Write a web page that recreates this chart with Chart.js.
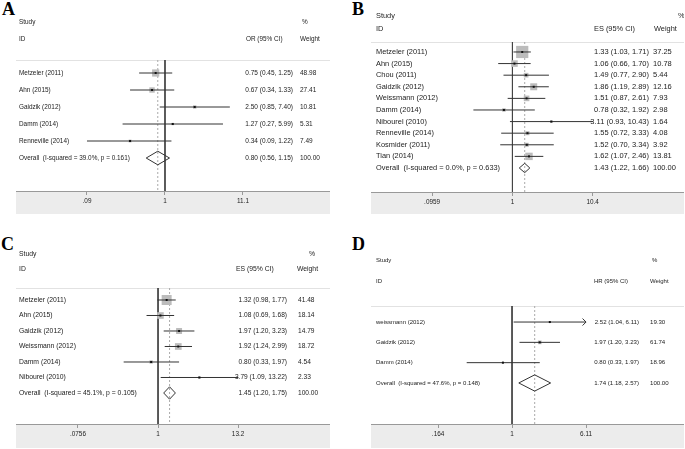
<!DOCTYPE html>
<html>
<head>
<meta charset="utf-8">
<script src="https://cdn.jsdelivr.net/npm/chart.js@4.4.1/dist/chart.umd.min.js"></script>
<style>
  body { margin: 0; background: #fff; width: 685px; height: 449px; position: relative; overflow: hidden; }
  canvas { position: absolute; }
  .letter { position: absolute; font-family: "Liberation Serif", "Times New Roman", serif; font-weight: bold; font-size: 18px; line-height: 1; color: #000; }
</style>
</head>
<body>
<div class="letter" style="left:2px;top:0">A</div>
<div class="letter" style="left:352px;top:0">B</div>
<div class="letter" style="left:1px;top:235px">C</div>
<div class="letter" style="left:352px;top:235px">D</div>
<canvas id="chartA" width="314" height="214" style="left:16px;top:0"></canvas>
<canvas id="chartB" width="313" height="214" style="left:371px;top:0"></canvas>
<canvas id="chartC" width="314" height="223" style="left:16px;top:225px"></canvas>
<canvas id="chartD" width="313" height="223" style="left:371px;top:225px"></canvas>
<script>
// ---- A: odds ratios ----
const studiesA = ['Metzeler (2011)', 'Ahn (2015)', 'Gaidzik (2012)', 'Damm (2014)', 'Renneville (2014)'];
const estA = [0.75, 0.67, 2.50, 1.27, 0.34];
const lowA = [0.45, 0.34, 0.85, 0.27, 0.09];
const highA = [1.25, 1.33, 7.40, 5.99, 1.22];
const weightA = [48.98, 27.41, 10.81, 5.31, 7.49];
const overallA = [0.80, 0.56, 1.15];
const hetA = 'Overall  (I-squared = 39.0%, p = 0.161)';
const ticksA = [0.09, 1, 11.1];
const tickLabelsA = ['.09', '1', '11.1'];

// ---- B ----
const studiesB = ['Metzeler (2011)', 'Ahn (2015)', 'Chou (2011)', 'Gaidzik (2012)', 'Weissmann (2012)',
  'Damm (2014)', 'Nibourel (2010)', 'Renneville (2014)', 'Kosmider (2011)', 'Tian (2014)'];
const estB = [1.33, 1.06, 1.49, 1.86, 1.51, 0.78, 3.11, 1.55, 1.52, 1.62];
const lowB = [1.03, 0.66, 0.77, 1.19, 0.87, 0.32, 0.93, 0.72, 0.70, 1.07];
const highB = [1.71, 1.70, 2.90, 2.89, 2.61, 1.92, 10.43, 3.33, 3.34, 2.46];
const weightB = [37.25, 10.78, 5.44, 12.16, 7.93, 2.98, 1.64, 4.08, 3.92, 13.81];
const overallB = [1.43, 1.22, 1.66];
const hetB = 'Overall  (I-squared = 0.0%, p = 0.633)';
const ticksB = [0.0959, 1, 10.4];
const tickLabelsB = ['.0959', '1', '10.4'];

// ---- C ----
const studiesC = ['Metzeler (2011)', 'Ahn (2015)', 'Gaidzik (2012)', 'Weissmann (2012)', 'Damm (2014)', 'Nibourel (2010)'];
const estC = [1.32, 1.08, 1.97, 1.92, 0.80, 3.79];
const lowC = [0.98, 0.69, 1.20, 1.24, 0.33, 1.09];
const highC = [1.77, 1.68, 3.23, 2.99, 1.97, 13.22];
const weightC = [41.48, 18.14, 14.79, 18.72, 4.54, 2.33];
const overallC = [1.45, 1.20, 1.75];
const hetC = 'Overall  (I-squared = 45.1%, p = 0.105)';
const ticksC = [0.0756, 1, 13.2];
const tickLabelsC = ['.0756', '1', '13.2'];

// ---- D: hazard ratios ----
const studiesD = ['weissmann (2012)', 'Gaidzik (2012)', 'Damm (2014)'];
const estD = [2.52, 1.97, 0.80];
const lowD = [1.04, 1.20, 0.33];
const highD = [6.11, 3.23, 1.97];
const weightD = [19.30, 61.74, 18.96];
const clippedD = [true, false, false];   // CI runs off the axis -> arrow
const overallD = [1.74, 1.18, 2.57];
const hetD = 'Overall  (I-squared = 47.6%, p = 0.148)';
const ticksD = [0.164, 1, 6.11];
const tickLabelsD = ['.164', '1', '6.11'];

const FONT = '"Liberation Sans", Arial, sans-serif';
const INK = '#333';
const fmt = v => v.toFixed(2);

function forestChart(id, d, lay) {
  const n = d.studies.length;

  // gray axis band, header rule and the text columns
  const forestText = {
    id: 'forestText',
    beforeDraw(chart) {
      const { ctx, chartArea: a } = chart;
      ctx.save();
      ctx.fillStyle = '#ececec';
      ctx.fillRect(a.left, a.bottom, a.right - a.left, chart.height - a.bottom);
      ctx.strokeStyle = '#e2e2e2';
      ctx.lineWidth = 1;
      ctx.beginPath();
      ctx.moveTo(a.left, a.top + 0.5);
      ctx.lineTo(a.right, a.top + 0.5);
      ctx.stroke();
      ctx.restore();
    },
    afterDraw(chart) {
      const { ctx, chartArea: a } = chart;
      const y = chart.scales.y, x = chart.scales.x;
      ctx.save();
      ctx.fillStyle = '#222';
      ctx.font = lay.font + 'px ' + FONT;
      ctx.textBaseline = 'middle';
      ctx.textAlign = 'left';
      ctx.fillText('Study', a.left + lay.labelX, lay.head[0]);
      ctx.fillText('ID', a.left + lay.labelX, lay.head[1]);
      ctx.fillText('%', a.left + lay.pctX, lay.head[0]);
      ctx.fillText('Weight', a.left + lay.weightHeadX, lay.head[1]);
      ctx.fillText(d.measure, a.left + lay.esHeadX, lay.head[1]);

      const rows = d.studies.concat([d.het]);
      const es = d.est.map((v, i) => fmt(v) + ' (' + fmt(d.low[i]) + ', ' + fmt(d.high[i]) + ')')
        .concat([fmt(d.overall[0]) + ' (' + fmt(d.overall[1]) + ', ' + fmt(d.overall[2]) + ')']);
      const wt = d.weight.map(fmt).concat(['100.00']);
      rows.forEach((label, i) => {
        const py = y.getPixelForValue(i);
        ctx.font = lay.font + 'px ' + FONT;
        ctx.textAlign = 'left';
        ctx.fillText(label, a.left + lay.labelX, py);
        ctx.font = lay.numFont + 'px ' + FONT;
        ctx.fillText(wt[i], a.left + lay.weightX, py);
        ctx.textAlign = 'right';
        ctx.fillText(es[i], a.left + lay.esRight, py);
      });

      // arrow where a CI runs off the axis
      ctx.strokeStyle = INK;
      ctx.lineWidth = 1;
      (d.clipped || []).forEach((c, i) => {
        if (!c) return;
        const px = x.getPixelForValue(d.high[i]), py = y.getPixelForValue(i);
        ctx.beginPath();
        ctx.moveTo(px - 3.5, py - 3.5);
        ctx.lineTo(px, py);
        ctx.lineTo(px - 3.5, py + 3.5);
        ctx.stroke();
      });
      ctx.restore();
    }
  };

  const ciSets = d.est.map((v, i) => ({
    data: [{ x: d.low[i], y: i }, { x: d.high[i], y: i }],
    showLine: true, borderColor: INK, borderWidth: 1, pointRadius: 0, order: 1
  }));
  const [ov, ovLo, ovHi] = d.overall;

  return new Chart(document.getElementById(id), {
    type: 'scatter',
    data: {
      datasets: [
        // study estimate dots
        { data: d.est.map((v, i) => ({ x: v, y: i })), pointStyle: 'rect', pointRadius: 1.4,
          backgroundColor: '#111', borderWidth: 0, order: 0 },
        ...ciSets,
        // pooled estimate diamond
        { data: [{ x: ovLo, y: n }, { x: ov, y: n - 0.4 }, { x: ovHi, y: n }, { x: ov, y: n + 0.4 }, { x: ovLo, y: n }],
          showLine: true, borderColor: INK, borderWidth: 1, pointRadius: 0, tension: 0, order: 1 },
        // weight boxes
        { data: d.est.map((v, i) => ({ x: v, y: i })), pointStyle: 'rect',
          pointRadius: d.weight.map(w => lay.boxF * Math.sqrt(w) / Math.SQRT2),
          backgroundColor: '#bcbcbc', borderWidth: 0, order: 2 },
        // no-effect line and pooled-estimate line
        { data: [{ x: 1, y: lay.yMin }, { x: 1, y: lay.yMax }], showLine: true,
          borderColor: '#444', borderWidth: 1, pointRadius: 0, order: 3 },
        { data: [{ x: ov, y: lay.yMin }, { x: ov, y: lay.yMax }], showLine: true,
          borderColor: '#aaa', borderWidth: 1, borderDash: [2, 2], pointRadius: 0, order: 3 }
      ]
    },
    options: {
      responsive: false,
      devicePixelRatio: 1,
      animation: false,
      layout: { autoPadding: false, padding: { top: lay.padTop, left: 0, right: 0, bottom: 0 } },
      plugins: { legend: { display: false }, tooltip: { enabled: false } },
      scales: {
        x: {
          type: 'logarithmic',
          min: lay.xMin, max: lay.xMax,
          bounds: 'data',
          afterBuildTicks: axis => { axis.ticks = d.ticks.map(v => ({ value: v })); },
          afterFit: axis => { axis.height = lay.axisH; },
          ticks: {
            autoSkip: false, maxRotation: 0, padding: 2, color: '#222',
            font: { family: FONT, size: 6.4 },
            callback: (v, i) => d.tickLabels[i]
          },
          grid: { display: true, drawOnChartArea: false, drawTicks: true, tickLength: 4, color: '#999' },
          border: { display: true, color: '#999' }
        },
        y: { type: 'linear', reverse: true, min: lay.yMin, max: lay.yMax, display: false }
      }
    },
    plugins: [forestText]
  });
}

forestChart('chartA',
  { studies: studiesA, est: estA, low: lowA, high: highA, weight: weightA, overall: overallA,
    het: hetA, ticks: ticksA, tickLabels: tickLabelsA, measure: 'OR (95% CI)' },
  { padTop: 60, axisH: 23, xMin: 0.01006, xMax: 162.9, yMin: -0.765, yMax: 6.94, font: 6.4, numFont: 6.5,
    labelX: 3, esRight: 277, weightX: 284, pctX: 286, weightHeadX: 284, esHeadX: 230, head: [22, 39], boxF: 1.03 });

forestChart('chartB',
  { studies: studiesB, est: estB, low: lowB, high: highB, weight: weightB, overall: overallB,
    het: hetB, ticks: ticksB, tickLabels: tickLabelsB, measure: 'ES (95% CI)' },
  { padTop: 42, axisH: 22, xMin: 0.01612, xMax: 149.3, yMin: -0.86, yMax: 12.07, font: 7.4, numFont: 7.5,
    labelX: 5, esRight: 278, weightX: 282, pctX: 307, weightHeadX: 283, esHeadX: 223, head: [16, 29], boxF: 2.0 });

forestChart('chartC',
  { studies: studiesC, est: estC, low: lowC, high: highC, weight: weightC, overall: overallC,
    het: hetC, ticks: ticksC, tickLabels: tickLabelsC, measure: 'ES (95% CI)' },
  { padTop: 63, axisH: 24, xMin: 0.01025, xMax: 256, yMin: -0.774, yMax: 8.0, font: 6.8, numFont: 6.6,
    labelX: 3, esRight: 271, weightX: 282, pctX: 293, weightHeadX: 281, esHeadX: 220, head: [29, 44], boxF: 1.55 });

forestChart('chartD',
  { studies: studiesD, est: estD, low: lowD, high: highD, weight: weightD, overall: overallD, clipped: clippedD,
    het: hetD, ticks: ticksD, tickLabels: tickLabelsD, measure: 'HR (95% CI)' },
  { padTop: 81, axisH: 24, xMin: 0.0318, xMax: 67.0, yMin: -0.79, yMax: 5.02, font: 6.0, numFont: 6.1,
    labelX: 5, esRight: 268, weightX: 279, pctX: 281, weightHeadX: 279, esHeadX: 223, head: [35, 56], boxF: 0.47 });
</script>
</body>
</html>
